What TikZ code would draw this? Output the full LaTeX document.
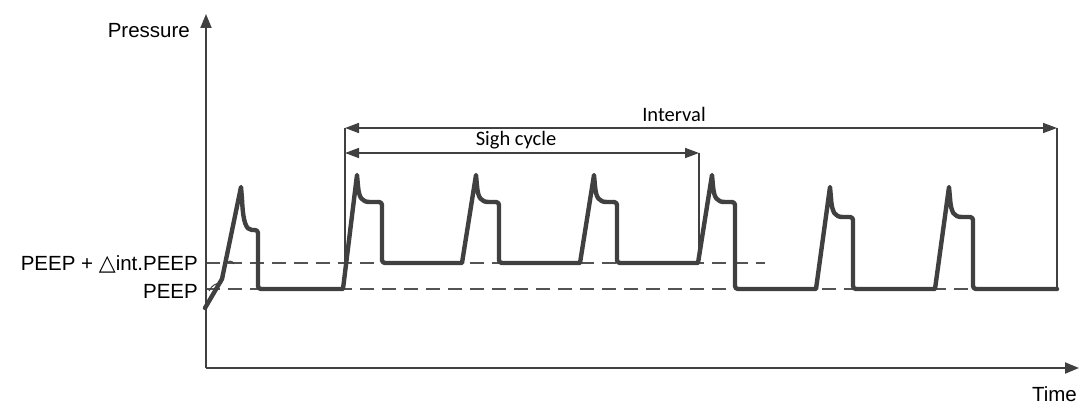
\documentclass[tikz,border=0pt]{standalone}
\usepackage{fontspec}
\setmainfont{Liberation Sans}
\newfontfamily\calib{Carlito}
\newfontfamily\dejavu{DejaVu Sans}
\usetikzlibrary{arrows.meta}
\definecolor{ink}{HTML}{404040}
% one breath: #1 rise-start x, #2 base y, #3 peak y, #4 plateau y, #5 plateau end x, #6 next base y
\newcommand\brth[6]{[sharp corners] -- (#1,#2) -- ({#1+14},#3) -- ({#1+15},{#3+11}) .. controls ({#1+16},{#4-4}) and ({#1+19},#4) .. ({#1+27},#4) [rounded corners=3pt] -- (#5,#4) -- (#5,#6)}
\begin{document}
\begin{tikzpicture}[x=1pt,y=-1pt,
  axis/.style={draw=ink,line width=2pt,-{Triangle[length=14pt,width=11pt]}},
  wave/.style={draw=ink,line width=4.4pt,line join=round,line cap=round},
  level/.style={draw=ink!90,line width=1.5pt,dash pattern=on 14pt off 8pt},
  span/.style={draw=ink,line width=1.6pt,{Triangle[length=14pt,width=10pt]}-{Triangle[length=14pt,width=10pt]}},
  marker/.style={draw=ink,line width=1.6pt},
  squig/.style={draw=ink,line width=1pt},
  lab/.style={font=\fontsize{20.5}{24}\selectfont,text=black,inner sep=0pt},
  clab/.style={font=\calib\fontsize{20.5}{24}\selectfont,text=black,inner sep=0pt}]
\useasboundingbox (0,0) rectangle (1083,406);
% axes
\coordinate (O) at (206,368);
\coordinate (Ytip) at (206,14);
\coordinate (Xtip) at (1079,368);
% levels
\coordinate (l1a) at (206,263); \coordinate (l1b) at (765,263);
\coordinate (l0a) at (206,289); \coordinate (l0b) at (1057,289);
\draw[level] (l1a) -- (l1b);
\draw[level] (l0a) -- (l0b);
% waveform
\draw[wave] (205,308) -- (222,279) -- (241,187) -- (242,199) .. controls (243,222) and (246,230) .. (252,230)
  [rounded corners=3pt] -- (258,230) -- (258,289)
  \brth{343}{289}{175}{202}{382}{263}
  \brth{462}{263}{175}{202}{499}{263}
  \brth{580}{263}{175}{202}{617}{263}
  \brth{698}{263}{175}{202}{735}{289}
  \brth{816}{289}{187}{217}{853}{289}
  \brth{935}{289}{187}{217}{973}{289}
  -- (1057,289);
\draw[squig] (209,291) .. controls (212,285) and (216,283) .. (222,283);
\draw[squig] (226,265) .. controls (228,260) and (232,260) .. (234,264);
% axes on top
\draw[axis] (O) -- (Ytip);
\draw[axis] (O) -- (Xtip);
% spans
\coordinate (iL) at (345,128); \coordinate (iR) at (1057,128);
\coordinate (sL) at (345,153); \coordinate (sR) at (699,153);
\coordinate (iLb) at (345,262); \coordinate (sRb) at (699,263); \coordinate (iRb) at (1057,289);
\draw[marker] (iL) -- (iLb);
\draw[marker] (sR) -- (sRb);
\draw[marker] (iR) -- (iRb);
\draw[span] (iL) -- (iR);
\draw[span] (sL) -- (sR);
% labels
\node[lab,anchor=east] (pr) at (190,31) {Pressure};
\node[lab,anchor=east] (pp) at (198,264) {PEEP + {\dejavu\fontsize{22}{24}\selectfont △}int.PEEP};
\node[lab,anchor=east] (pe) at (198,291) {PEEP};
\node[lab,anchor=east] (tm) at (1077,394) {Time};
\node[clab] (iv) at (674,114) {Interval};
\node[clab] (sc) at (516,140) {Sigh cycle};
\end{tikzpicture}
\end{document}
